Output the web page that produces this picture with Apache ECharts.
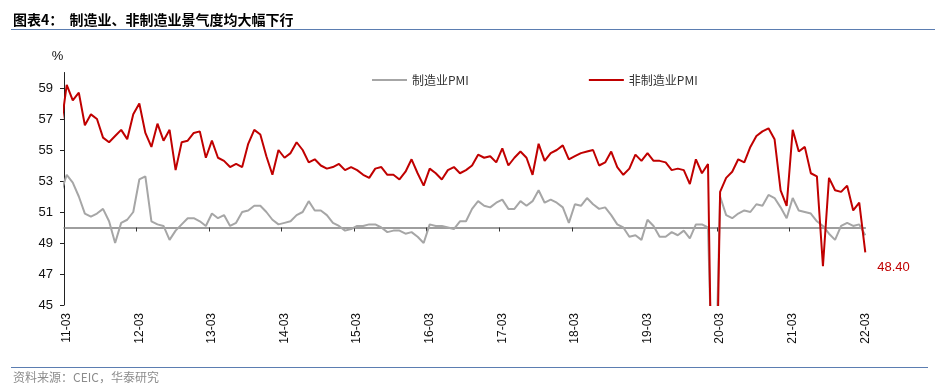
<!DOCTYPE html>
<html>
<head>
<meta charset="utf-8">
<script src="https://cdn.jsdelivr.net/npm/echarts@6/dist/echarts.min.js"></script>
<style>
html,body{margin:0;padding:0;background:#fff;}
#chart{width:943px;height:388px;}
</style>
</head>
<body>
<div id="chart"></div>
<script>
// months from 2011-02 to 2022-03 (first one only partly visible, clipped by the axis)
const categories = [];
for (let y = 11; y <= 22; y++) {
  for (let m = 1; m <= 12; m++) {
    if (y === 11 && m < 2) continue;
    if (y === 22 && m > 3) break;
    categories.push(String(y) + '-' + (m < 10 ? '0' + m : String(m)));
  }
}

const xTickLabels = ['11-03','12-03','13-03','14-03','15-03','16-03','17-03','18-03','19-03','20-03','21-03','22-03'];
const yTickValues = [45, 47, 49, 51, 53, 55, 57, 59];

// 制造业PMI, 2011-02 .. 2022-03
const mfgPMI = [
  52.2,
  53.4, 52.9, 52.0, 50.9, 50.7, 50.9, 51.2, 50.4, 49.0, 50.3,
  50.5, 51.0, 53.1, 53.3, 50.4, 50.2, 50.1, 49.2, 49.8, 50.2, 50.6, 50.6,
  50.4, 50.1, 50.9, 50.6, 50.8, 50.1, 50.3, 51.0, 51.1, 51.4, 51.4, 51.0,
  50.5, 50.2, 50.3, 50.4, 50.8, 51.0, 51.7, 51.1, 51.1, 50.8, 50.3, 50.1,
  49.8, 49.9, 50.1, 50.1, 50.2, 50.2, 50.0, 49.7, 49.8, 49.8, 49.6, 49.7,
  49.4, 49.0, 50.2, 50.1, 50.1, 50.0, 49.9, 50.4, 50.4, 51.2, 51.7, 51.4,
  51.3, 51.6, 51.8, 51.2, 51.2, 51.7, 51.4, 51.7, 52.4, 51.6, 51.8, 51.6,
  51.3, 50.3, 51.5, 51.4, 51.9, 51.5, 51.2, 51.3, 50.8, 50.2, 50.0, 49.4,
  49.5, 49.2, 50.5, 50.1, 49.4, 49.4, 49.7, 49.5, 49.8, 49.3, 50.2, 50.2,
  50.0, 35.7, 52.0, 50.8, 50.6, 50.9, 51.1, 51.0, 51.5, 51.4, 52.1, 51.9,
  51.3, 50.6, 51.9, 51.1, 51.0, 50.9, 50.4, 50.1, 49.6, 49.2, 50.1, 50.3,
  50.1, 50.2, 49.5
];

// 非制造业PMI, 2011-02 .. 2022-03
const nonMfgPMI = [
  56.3,
  59.2, 58.2, 58.7, 56.6, 57.3, 57.0, 55.8, 55.5, 55.9, 56.3,
  55.7, 57.3, 58.0, 56.1, 55.2, 56.7, 55.6, 56.3, 53.7, 55.5, 55.6, 56.1,
  56.2, 54.5, 55.6, 54.5, 54.3, 53.9, 54.1, 53.9, 55.4, 56.3, 56.0, 54.6,
  53.4, 55.0, 54.5, 54.8, 55.5, 55.0, 54.2, 54.4, 54.0, 53.8, 53.9, 54.1,
  53.7, 53.9, 53.7, 53.4, 53.2, 53.8, 53.9, 53.4, 53.4, 53.1, 53.6, 54.4,
  53.5, 52.7, 53.8, 53.5, 53.1, 53.7, 53.9, 53.5, 53.7, 54.0, 54.7, 54.5,
  54.6, 54.2, 55.1, 54.0, 54.5, 54.9, 54.5, 53.4, 55.4, 54.3, 54.8, 55.0,
  55.3, 54.4, 54.6, 54.8, 54.9, 55.0, 54.0, 54.2, 54.9, 53.9, 53.4, 53.8,
  54.7, 54.3, 54.8, 54.3, 54.3, 54.2, 53.7, 53.8, 53.7, 52.8, 54.4, 53.5,
  54.1, 29.6, 52.3, 53.2, 53.6, 54.4, 54.2, 55.2, 55.9, 56.2, 56.4, 55.7,
  52.4, 51.4, 56.3, 54.9, 55.2, 53.5, 53.3, 47.5, 53.2, 52.4, 52.3, 52.7,
  51.1, 51.6, 48.4
];

const seriesNames = ['制造业PMI', '非制造业PMI'];

const FONT = "'Liberation Sans', Arial, 'Noto Sans CJK SC', sans-serif";
const CJK = "'Noto Sans CJK SC', 'Liberation Sans', sans-serif";

const labelIdx = xTickLabels.map(l => categories.indexOf(l));
const boundaryIdx = labelIdx.slice(1, labelIdx.length - 1).map(i => i - 0.5);

const grayData = mfgPMI.map((v, i) => [i, v]);
const redData = nonMfgPMI.map((v, i) => [i, v]);

const chart = echarts.init(document.getElementById('chart'), null, {renderer: 'canvas'});
chart.setOption({
  animation: false,
  backgroundColor: '#fff',
  grid: {left: 64, right: 77.7, top: 72.5, bottom: 83, containLabel: false},
  legend: {
    data: seriesNames,
    left: 372,
    top: 74,
    padding: 0,
    itemGap: 120,
    itemWidth: 35,
    itemHeight: 2,
    icon: 'rect',
    textStyle: {fontFamily: CJK, fontSize: 12, color: '#333'}
  },
  xAxis: [
    {
      type: 'value',
      min: 0.55,
      max: 133,
      axisLine: {show: false},
      axisTick: {show: false},
      splitLine: {show: false},
      axisLabel: {
        customValues: labelIdx,
        formatter: v => categories[Math.round(v)],
        rotate: 90,
        margin: 8,
        fontSize: 12,
        color: '#111',
        fontFamily: FONT
      }
    },
    {
      type: 'value',
      min: 0.55,
      max: 133,
      position: 'bottom',
      offset: -77.5,
      axisLine: {show: true, lineStyle: {color: '#7f7f7f', width: 1.5}},
      axisTick: {show: true, customValues: boundaryIdx, length: 4, lineStyle: {color: '#333', width: 1}},
      axisLabel: {show: false},
      splitLine: {show: false}
    }
  ],
  yAxis: {
    type: 'value',
    min: 45,
    max: 60,
    name: '%',
    nameLocation: 'end',
    nameGap: 10,
    nameTextStyle: {fontFamily: FONT, fontSize: 13, color: '#111', align: 'center', padding: [0, 13, 0, 0]},
    axisLine: {show: true, lineStyle: {color: '#222', width: 1}},
    axisTick: {show: true, customValues: yTickValues, length: 4, lineStyle: {color: '#222'}},
    axisLabel: {customValues: yTickValues, margin: 11, fontSize: 13, color: '#111', fontFamily: FONT},
    splitLine: {show: false}
  },
  series: [
    {
      name: seriesNames[0],
      type: 'line',
      xAxisIndex: 0,
      data: grayData,
      showSymbol: false,
      symbol: 'none',
      clip: true,
      lineStyle: {color: '#A6A6A6', width: 2},
      itemStyle: {color: '#A6A6A6'}
    },
    {
      name: seriesNames[1],
      type: 'line',
      xAxisIndex: 0,
      data: redData,
      showSymbol: false,
      symbol: 'none',
      clip: true,
      lineStyle: {color: '#C00000', width: 2},
      itemStyle: {color: '#C00000'},
      endLabel: {
        show: true,
        distance: 12,
        offset: [0, 15],
        formatter: p => p.value[1].toFixed(2),
        color: '#C00000',
        fontSize: 13,
        fontFamily: FONT
      }
    }
  ],
  graphic: [
    {
      type: 'text', left: 13, top: 13,
      style: {text: '图表4：  制造业、非制造业景气度均大幅下行', fontFamily: CJK, fontSize: 14, fontWeight: 'bold', fill: '#000'}
    },
    {
      type: 'line', shape: {x1: 11, y1: 29.5, x2: 935, y2: 29.5},
      style: {stroke: '#5B7DB1', lineWidth: 1.2}
    },
    {
      type: 'line', shape: {x1: 11, y1: 367.5, x2: 928, y2: 367.5},
      style: {stroke: '#5B7DB1', lineWidth: 1.2}
    },
    {
      type: 'text', left: 13, top: 371,
      style: {text: '资料来源：CEIC，华泰研究', fontFamily: CJK, fontSize: 12, fill: '#8c8c8c'}
    }
  ]
});
</script>
</body>
</html>
